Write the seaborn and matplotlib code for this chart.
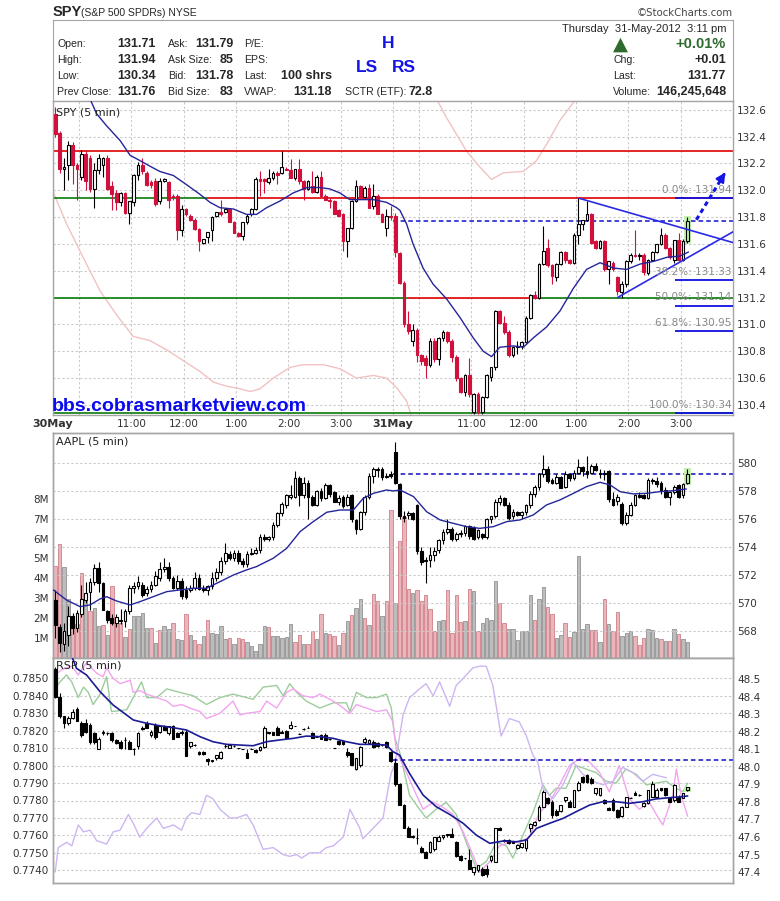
"""StockCharts style intraday chart: SPY / AAPL / RSP 5-minute candles."""

import matplotlib

matplotlib.use("Agg")
import matplotlib.pyplot as plt
from matplotlib.patches import Rectangle
import numpy as np
import seaborn as sns

# ---------------------------------------------------------------- SPY data
spy_open = [132.57, 132.43, 132.16, 132.19, 132.34, 132.19, 132.10, 132.27, 132.24, 132.01,
            132.15, 132.19, 132.24, 132.03, 131.98, 131.91, 131.98, 131.83, 131.91, 132.11,
            132.19, 132.13, 132.06, 132.07, 131.92, 132.07, 132.06, 131.96, 131.96, 131.70,
            131.86, 131.81, 131.78, 131.71, 131.61, 131.65, 131.70, 131.81, 131.84, 131.84,
            131.86, 131.76, 131.68, 131.66, 131.76, 131.82, 131.86, 132.08, 132.08, 132.06,
            132.09, 132.13, 132.13, 132.16, 132.15, 132.09, 132.16, 132.07, 132.01, 132.03,
            131.99, 132.10, 131.96, 131.93, 131.92, 131.85, 131.82, 131.62, 131.72, 131.92,
            132.03, 131.95, 132.02, 131.88, 131.96, 131.82, 131.72, 131.81,
            131.81, 131.53, 131.31, 131.00, 130.88, 130.96, 130.77, 130.75, 130.70, 130.88,
            130.74, 130.90, 130.94, 130.88, 130.76, 130.60, 130.50, 130.62, 130.35, 130.48,
            130.35, 130.46, 130.61, 130.68, 131.10, 131.01, 130.94, 130.77, 130.83, 130.84,
            130.87, 131.05, 131.22, 131.20, 131.45, 131.57, 131.44, 131.35, 131.45, 131.54,
            131.48, 131.46, 131.67, 131.75, 131.78, 131.82, 131.62, 131.57, 131.62, 131.41,
            131.46, 131.35, 131.24, 131.30, 131.47, 131.52, 131.51, 131.52, 131.38, 131.48,
            131.54, 131.60, 131.67, 131.57, 131.48, 131.63, 131.48, 131.62]
spy_high = [132.62, 132.44, 132.24, 132.37, 132.36, 132.20, 132.30, 132.30, 132.26, 132.20,
            132.27, 132.25, 132.26, 132.07, 132.00, 131.99, 131.99, 131.92, 132.12, 132.21,
            132.24, 132.14, 132.08, 132.09, 132.09, 132.09, 132.07, 131.97, 131.97, 131.89,
            131.87, 131.82, 131.79, 131.72, 131.64, 131.69, 131.81, 131.84, 131.93, 131.86,
            131.87, 131.77, 131.69, 131.76, 131.82, 131.87, 132.10, 132.14, 132.09, 132.16,
            132.14, 132.14, 132.29, 132.17, 132.23, 132.16, 132.23, 132.08, 132.08, 132.14,
            132.11, 132.14, 131.97, 131.94, 131.93, 131.86, 131.83, 131.72, 131.93, 132.08,
            132.04, 132.03, 132.05, 132.05, 131.97, 131.83, 131.86, 131.88,
            131.83, 131.54, 131.32, 131.10, 131.00, 130.97, 130.78, 130.77, 130.90, 130.90,
            130.91, 130.96, 130.95, 130.89, 130.77, 130.61, 130.63, 130.75, 130.49, 130.50,
            130.47, 130.63, 130.68, 131.11, 131.11, 131.06, 130.96, 130.84, 130.88, 130.88,
            131.06, 131.23, 131.25, 131.46, 131.73, 131.64, 131.45, 131.46, 131.55, 131.55,
            131.49, 131.68, 131.94, 131.78, 131.92, 131.83, 131.63, 131.63, 131.63, 131.47,
            131.47, 131.36, 131.32, 131.48, 131.53, 131.70, 131.53, 131.53, 131.49, 131.55,
            131.60, 131.72, 131.68, 131.58, 131.63, 131.68, 131.64, 131.80]
spy_low = [132.40, 132.13, 132.00, 132.08, 132.05, 131.93, 132.08, 132.00, 131.99, 131.87,
           132.12, 132.10, 132.00, 131.85, 131.85, 131.88, 131.82, 131.75, 131.88, 132.08,
           132.12, 132.03, 132.02, 131.88, 131.90, 132.06, 131.87, 131.93, 131.63, 131.66,
           131.81, 131.77, 131.70, 131.55, 131.60, 131.61, 131.62, 131.80, 131.81, 131.83,
           131.76, 131.68, 131.65, 131.63, 131.75, 131.81, 131.85, 131.96, 131.98, 132.05,
           132.08, 132.05, 132.12, 132.15, 132.09, 132.08, 132.05, 131.93, 132.00, 131.98,
           131.98, 131.96, 131.93, 131.87, 131.82, 131.81, 131.55, 131.50, 131.71, 131.91,
           131.94, 131.94, 131.87, 131.86, 131.82, 131.76, 131.66, 131.78,
           131.50, 131.30, 130.98, 130.93, 130.84, 130.72, 130.70, 130.60, 130.68, 130.72,
           130.70, 130.88, 130.86, 130.72, 130.58, 130.49, 130.47, 130.46, 130.33, 130.33,
           130.33, 130.45, 130.58, 130.66, 131.00, 130.93, 130.76, 130.76, 130.78, 130.82,
           130.86, 131.04, 131.19, 131.19, 131.44, 131.43, 131.30, 131.32, 131.44, 131.46,
           131.45, 131.45, 131.60, 131.70, 131.77, 131.60, 131.56, 131.56, 131.40, 131.30,
           131.40, 131.22, 131.20, 131.28, 131.46, 131.50, 131.48, 131.37, 131.37, 131.47,
           131.53, 131.59, 131.56, 131.49, 131.46, 131.47, 131.47, 131.61]
spy_close = [132.42, 132.16, 132.17, 132.34, 132.19, 132.16, 132.27, 132.07, 132.01, 132.15,
             132.24, 132.24, 132.01, 131.97, 131.91, 131.98, 131.83, 131.92, 132.11, 132.19,
             132.14, 132.04, 132.04, 131.90, 132.07, 132.08, 131.93, 131.95, 131.70, 131.86,
             131.82, 131.78, 131.71, 131.62, 131.64, 131.69, 131.80, 131.84, 131.82, 131.86,
             131.76, 131.68, 131.66, 131.76, 131.81, 131.86, 132.08, 132.07, 132.07, 132.09,
             132.13, 132.11, 132.17, 132.15, 132.09, 132.16, 132.07, 132.01, 132.07, 131.99,
             132.10, 131.96, 131.93, 131.92, 131.82, 131.81, 131.62, 131.72, 131.92, 132.03,
             131.95, 132.02, 131.87, 131.96, 131.82, 131.76, 131.81, 131.80,
             131.54, 131.31, 131.00, 130.95, 130.96, 130.77, 130.73, 130.70, 130.88, 130.74,
             130.90, 130.94, 130.88, 130.76, 130.60, 130.50, 130.62, 130.48, 130.48, 130.35,
             130.46, 130.62, 130.68, 131.10, 131.01, 130.94, 130.77, 130.83, 130.84, 130.87,
             131.05, 131.22, 131.20, 131.45, 131.55, 131.44, 131.36, 131.45, 131.54, 131.48,
             131.46, 131.67, 131.75, 131.78, 131.82, 131.61, 131.57, 131.62, 131.41, 131.47,
             131.41, 131.25, 131.30, 131.47, 131.52, 131.51, 131.52, 131.39, 131.48, 131.54,
             131.60, 131.67, 131.57, 131.50, 131.63, 131.48, 131.62, 131.77]

# moving average and overlay, read as (bar, value) points
spy_ma_bar = [8.0, 9.5, 11.8, 14.9, 17.2, 19.5, 21.7, 24.0, 27.1, 30.2, 33.2, 35.5, 37.8, 40.9,
              43.9, 46.2, 48.5, 51.6, 54.6, 57.7, 60.7, 63.0, 65.3, 67.6, 69.9, 73.0, 76.0,
              78.3, 79.1, 80.6, 82.1, 84.4, 86.7, 89.8, 92.9, 95.9, 98.2, 100.1, 102.0, 105.1,
              107.4, 109.7, 112.7, 115.8, 118.9, 121.9, 125.0, 128.1, 131.1, 134.2, 137.3,
              140.3, 143.4, 145.3]
spy_ma = [132.68, 132.57, 132.48, 132.37, 132.26, 132.22, 132.18, 132.14, 132.11, 132.04,
          131.97, 131.91, 131.87, 131.86, 131.82, 131.82, 131.87, 131.92, 131.98, 132.02,
          132.02, 132.01, 131.98, 131.93, 131.93, 131.93, 131.91, 131.87, 131.85, 131.75,
          131.60, 131.42, 131.30, 131.19, 131.05, 130.90, 130.80, 130.76, 130.83, 130.84,
          130.83, 130.90, 130.98, 131.10, 131.27, 131.41, 131.46, 131.42, 131.41, 131.45,
          131.47, 131.50, 131.51, 131.54]
spy_band_lo_bar = [-0.5, 2.6, 6.4, 10.3, 14.1, 17.9, 21.7, 25.6, 29.4, 33.2, 36.3, 39.3, 42.4,
                   44.7, 47.0, 50.0, 53.9, 56.9, 61.5, 65.3, 69.1, 73.0, 76.0, 78.3, 80.6,
                   82.1, 84.0]
spy_band_lo = [131.99, 131.75, 131.50, 131.25, 131.07, 130.91, 130.88, 130.81, 130.73, 130.65,
               130.57, 130.54, 130.52, 130.50, 130.52, 130.60, 130.68, 130.70, 130.70, 130.67,
               130.60, 130.62, 130.60, 130.53, 130.43, 130.28, 130.10]
spy_band_hi_bar = [85.5, 89.8, 94.4, 97.5, 100.1, 102.8, 107.4, 110.4, 112.7, 115.8, 120.4]
spy_band_hi = [132.80, 132.54, 132.29, 132.17, 132.08, 132.13, 132.14, 132.22, 132.34, 132.52,
               132.72]

# annotations drawn on the SPY panel (level, start bar, end bar)
spy_red_lines = [(132.29, 0, 156), (131.94, 35.3, 156), (131.20, 81.4, 110.0)]
spy_green_lines = [(131.94, 0, 35.3), (131.20, 0, 81.4), (131.20, 110.0, 156), (130.34, 0, 156)]
fib_pct = ["0.0%", "38.2%", "50.0%", "61.8%", "100.0%"]
fib_val = [131.94, 131.33, 131.14, 130.95, 130.34]
trend_upper = ([120.7, 156.0], [131.94, 131.61])
trend_lower = ([129.5, 156.0], [131.20, 131.69])
breakout_arrow = ([147.6, 154.0], [131.78, 132.12])
spy_last = 131.77

# --------------------------------------------------------------- AAPL data
aapl_open = [570.21, 568.3, 567.1, 567.7, 569.1, 568.2, 569.2, 570.2, 570.8, 571.5,
             572.5, 571.4, 569.4, 568.9, 568.6, 568.8, 568.7, 569.4, 571.1, 571.2,
             571.3, 570.7, 571.0, 571.3, 571.8, 572.4, 572.6, 571.8, 571.1, 571.6,
             570.9, 570.9, 571.1, 571.8, 571.1, 570.9, 571.2, 571.8, 572.2, 573.0,
             573.5, 573.2, 573.6, 573.0, 572.8, 573.5, 573.6, 573.8, 574.7, 574.6,
             574.7, 575.6, 576.4, 577.0, 577.6, 577.6, 578.9, 577.7, 578.6, 577.6,
             577.0, 578.0, 577.5, 578.4, 577.9, 577.2, 577.6, 577.0, 577.7, 575.9,
             575.3, 576.5, 577.6, 579.1, 579.6, 579.6, 579.0, 579.2,
             580.8, 578.5, 576.2, 576.3, 576.4, 577.0, 573.7, 573.0, 573.1, 573.4,
             573.8, 574.5, 575.1, 575.3, 574.6, 574.9, 575.0, 575.5, 575.4, 574.7,
             574.9, 574.7, 576.0, 576.2, 577.2, 577.5, 577.0, 576.2, 576.5, 576.3,
             576.5, 577.0, 577.8, 578.3, 579.2, 579.6, 578.8, 578.6, 579.0, 578.3,
             579.2, 578.9, 579.3, 579.7, 579.4, 579.3, 579.8, 579.2, 579.3, 579.4,
             577.4, 577.3, 577.1, 575.7, 576.3, 577.0, 577.7, 577.7, 577.5, 578.8,
             578.7, 578.6, 578.1, 577.6, 577.9, 578.4, 577.7, 578.6]
aapl_high = [570.9, 568.5, 568.6, 569.8, 569.3, 569.5, 571.3, 571.5, 571.8, 572.8,
             572.9, 571.5, 569.5, 569.2, 569.2, 569.6, 569.6, 571.3, 571.5, 571.9,
             571.5, 571.2, 571.6, 572.3, 572.9, 573.2, 572.9, 571.9, 572.0, 571.8,
             571.2, 571.3, 572.2, 572.1, 571.3, 571.3, 572.2, 572.5, 573.3, 574.3,
             573.7, 573.8, 573.8, 573.2, 573.7, 573.9, 574.0, 574.9, 574.9, 574.8,
             575.8, 576.5, 577.2, 577.8, 578.4, 579.4, 579.1, 579.0, 578.8, 577.7,
             578.1, 578.2, 578.6, 578.5, 578.0, 577.7, 577.7, 577.8, 577.8, 576.0,
             576.6, 577.7, 579.3, 579.7, 579.7, 579.7, 579.3, 579.4,
             581.5, 578.6, 576.6, 576.6, 576.5, 577.1, 574.0, 573.3, 574.0, 574.0,
             574.6, 575.3, 576.0, 575.4, 575.1, 575.2, 575.6, 575.6, 575.5, 575.3,
             575.0, 576.1, 576.2, 577.4, 577.7, 577.6, 577.2, 576.7, 576.6, 576.6,
             577.1, 578.0, 578.4, 579.3, 580.6, 579.8, 578.9, 579.2, 579.1, 579.4,
             579.3, 579.5, 580.3, 579.8, 580.5, 579.9, 580.0, 579.6, 579.5, 579.5,
             577.9, 577.8, 577.2, 576.5, 577.2, 577.8, 577.9, 577.8, 578.9, 578.9,
             579.0, 578.7, 578.3, 578.0, 578.4, 578.5, 578.6, 579.6]
aapl_low = [567.5, 566.5, 566.6, 566.9, 567.8, 567.9, 569.0, 570.0, 569.5, 571.3,
            570.8, 569.5, 568.6, 568.4, 568.3, 568.5, 568.3, 569.2, 570.7, 571.0,
            570.4, 570.5, 570.8, 571.2, 571.6, 572.2, 571.6, 571.0, 570.9, 570.3,
            570.3, 570.8, 570.9, 570.9, 570.8, 570.6, 571.0, 571.6, 572.0, 572.8,
            573.1, 573.0, 572.8, 572.6, 572.6, 573.4, 573.5, 573.6, 574.4, 574.4,
            574.5, 575.4, 576.2, 576.8, 577.4, 577.5, 576.9, 577.5, 576.0, 576.9,
            576.9, 577.3, 577.4, 577.6, 577.2, 577.0, 576.8, 576.9, 575.8, 574.9,
            575.2, 576.3, 577.4, 578.6, 579.0, 578.8, 578.9, 578.9,
            578.5, 576.0, 575.8, 576.0, 575.9, 573.5, 572.7, 571.4, 572.6, 573.0,
            573.6, 574.2, 574.9, 574.4, 574.4, 574.7, 574.8, 574.6, 574.5, 574.6,
            574.6, 574.6, 575.7, 576.1, 577.0, 576.9, 575.9, 576.0, 576.2, 576.0,
            576.3, 576.8, 577.6, 578.1, 579.0, 578.6, 578.5, 578.5, 578.2, 578.2,
            578.7, 578.8, 579.2, 579.1, 578.9, 579.2, 579.4, 578.9, 578.8, 577.2,
            576.9, 577.0, 575.6, 575.6, 576.2, 576.9, 577.5, 577.4, 577.4, 578.5,
            578.3, 577.8, 577.5, 577.0, 577.8, 577.5, 577.5, 578.5]
aapl_close = [568.43, 567.12, 568.0, 569.1, 568.2, 569.3, 570.3, 570.7, 571.5, 572.5,
              571.4, 569.5, 568.8, 568.6, 569.0, 568.7, 569.4, 571.1, 571.2, 571.5,
              570.6, 571.0, 571.3, 571.9, 572.4, 572.6, 571.8, 571.1, 571.6, 570.5,
              570.4, 571.1, 571.8, 571.0, 570.9, 571.2, 571.8, 572.2, 573.0, 573.6,
              573.2, 573.6, 573.0, 572.8, 573.5, 573.6, 573.8, 574.7, 574.6, 574.7,
              575.6, 576.4, 577.1, 577.7, 577.7, 578.9, 577.7, 578.6, 577.6, 577.0,
              578.0, 577.5, 578.4, 577.8, 577.2, 577.5, 576.9, 577.6, 576.0, 575.3,
              576.5, 577.6, 579.1, 579.6, 579.5, 579.0, 579.1, 579.1,
              578.6, 576.2, 576.1, 576.4, 576.0, 573.7, 572.9, 573.1, 573.4, 573.7,
              574.5, 575.1, 575.3, 574.6, 574.9, 575.0, 575.5, 574.8, 574.6, 575.2,
              574.7, 576.0, 576.2, 577.2, 577.5, 577.0, 576.1, 576.5, 576.3, 576.5,
              577.0, 577.8, 578.3, 579.2, 579.6, 578.7, 578.6, 579.0, 578.2, 579.2,
              578.9, 579.3, 579.7, 579.4, 579.2, 579.8, 579.5, 579.3, 579.2, 577.4,
              577.0, 577.6, 575.7, 576.3, 577.0, 577.7, 577.6, 577.5, 578.8, 578.7,
              578.5, 578.1, 577.6, 577.9, 578.3, 577.6, 578.5, 579.2]

# volume in millions, and whether the bar was an up bar (grey) or down bar (pink)
aapl_vol = [4.63, 5.72, 4.55, 2.95, 1.90, 1.70, 4.29, 2.95, 2.36, 2.53,
            1.61, 1.64, 1.14, 3.62, 1.94, 1.77, 1.07, 1.44, 2.11, 2.11,
            2.28, 1.52, 1.52, 0.76, 1.40, 1.61, 1.44, 1.74, 0.93, 0.90,
            2.19, 1.14, 0.90, 0.68, 1.10, 1.91, 1.27, 1.19, 1.61, 0.93,
            1.02, 0.68, 1.02, 0.93, 0.80, 0.60, 0.35, 0.68, 1.61, 1.56,
            1.10, 1.10, 1.02, 1.07, 1.69, 0.80, 1.14, 0.68, 0.68, 1.35,
            0.93, 2.19, 1.27, 1.19, 1.10, 0.63, 1.27, 1.86, 2.14, 2.53,
            2.95, 2.03, 1.64, 3.20, 2.86, 2.11, 2.86, 7.45,
            2.78, 5.89, 7.06, 3.49, 3.25, 3.42, 2.86, 3.15, 2.48, 1.35,
            1.86, 1.91, 3.42, 1.27, 3.15, 1.81, 1.86, 3.45, 3.37, 1.35,
            1.77, 1.99, 1.91, 3.85, 2.75, 1.74, 1.47, 1.47, 0.90, 1.34,
            1.34, 3.15, 1.91, 2.95, 3.55, 2.54, 2.19, 1.00, 1.14, 1.74,
            1.05, 1.30, 5.13, 1.47, 1.69, 1.41, 1.41, 0.80, 2.95, 1.69,
            1.35, 2.31, 1.10, 1.24, 1.35, 1.10, 0.65, 1.02, 1.47, 1.41,
            1.02, 0.93, 0.85, 0.85, 1.47, 1.19, 0.93, 0.80]
aapl_vol_up = [0, 0, 1, 1, 0, 0, 0, 1, 0, 1,
               1, 0, 1, 0, 0, 0, 1, 0, 1, 1,
               1, 1, 0, 1, 0, 1, 1, 0, 1, 1,
               0, 1, 0, 0, 1, 0, 1, 1, 1, 1,
               0, 1, 0, 0, 1, 1, 1, 1, 1, 0,
               1, 1, 1, 1, 1, 0, 0, 1, 0, 0,
               1, 0, 1, 0, 0, 1, 0, 1, 0, 1,
               1, 0, 1, 0, 0, 1, 0, 0,
               1, 0, 0, 0, 1, 0, 0, 0, 0, 0,
               1, 1, 0, 0, 0, 0, 1, 0, 1, 0,
               1, 1, 1, 1, 0, 0, 1, 1, 1, 1,
               1, 1, 0, 1, 1, 0, 0, 1, 1, 0,
               0, 1, 1, 1, 1, 0, 0, 1, 0, 1,
               0, 0, 1, 1, 1, 0, 0, 0, 1, 1,
               1, 0, 1, 0, 1, 0, 1, 1]

aapl_ma_bar = [-0.4, 2.6, 5.7, 8.0, 10.3, 11.8, 14.1, 17.2, 19.5, 22.5, 25.6, 28.6, 31.7,
               34.7, 37.8, 40.9, 43.9, 46.2, 50.0, 53.1, 56.2, 59.2, 62.3, 65.3, 68.4, 70.7,
               73.0, 76.0, 77.6, 79.1, 82.2, 85.2, 88.3, 91.3, 94.4, 97.4, 100.5, 103.6,
               106.6, 109.7, 112.7, 115.8, 118.9, 121.9, 125.0, 127.3, 129.6, 132.6, 135.7,
               138.7, 141.8, 144.8]
aapl_ma = [570.93, 570.21, 569.74, 569.86, 570.29, 570.45, 570.14, 569.86, 570.10, 570.45,
           570.81, 570.93, 571.05, 571.05, 571.52, 572.00, 572.36, 572.60, 573.19, 573.90,
           575.10, 575.81, 576.48, 576.64, 576.64, 577.48, 577.83, 578.07, 578.00, 578.07,
           577.60, 576.52, 575.93, 575.69, 575.45, 575.33, 575.45, 575.81, 575.93, 576.29,
           577.00, 577.36, 577.83, 578.31, 578.62, 578.43, 577.95, 577.79, 577.83, 577.95,
           578.02, 578.14]
aapl_ref = 579.19

# ---------------------------------------------------------------- RSP data
rsp_open = [48.56, 48.40, 48.29, 48.25, 48.28, 48.33, 48.25, 48.25, 48.24, 48.19,
            48.10, 48.19, 48.19, 48.19, 48.15, 48.14, 48.15, 48.14, 48.10, 48.12,
            48.22, 48.25, 48.18, 48.24, 48.20, 48.23, 48.19, 48.23, 48.19, 48.20,
            48.20, 48.12, 48.125, 48.086, 48.086, 48.046, 48.035, 48.048, 48.048, 48.12,
            48.11, 48.12, 48.106, 48.10, 48.077, 48.10, 48.096, 48.096, 48.115, 48.196,
            48.196, 48.22, 48.20, 48.204, 48.22, 48.233, 48.185, 48.215, 48.22, 48.19,
            48.172, 48.18, 48.18, 48.16, 48.105, 48.146, 48.146, 48.086, 48.077, 47.99,
            48.01, 48.14, 48.134, 48.143, 48.134, 48.126, 48.14, 48.086,
            48.02, 47.90, 47.78, 47.65, 47.605, 47.596, 47.54, 47.515, 47.515, 47.53,
            47.58, 47.60, 47.61, 47.62, 47.57, 47.49, 47.478, 47.47, 47.40, 47.41,
            47.42, 47.42, 47.47, 47.46, 47.65, 47.584, 47.584, 47.578, 47.535, 47.545,
            47.535, 47.65, 47.667, 47.697, 47.773, 47.82, 47.80, 47.75, 47.75, 47.81,
            47.80, 47.773, 47.868, 47.94, 47.953, 47.93, 47.85, 47.84, 47.81, 47.763,
            47.81, 47.754, 47.72, 47.773, 47.824, 47.85, 47.84, 47.774, 47.792, 47.83,
            47.83, 47.877, 47.877, 47.82, 47.81, 47.83, 47.824, 47.87]
rsp_high = [48.57, 48.42, 48.29, 48.29, 48.33, 48.34, 48.26, 48.27, 48.25, 48.20,
            48.17, 48.21, 48.20, 48.20, 48.16, 48.15, 48.17, 48.15, 48.11, 48.20,
            48.23, 48.26, 48.21, 48.25, 48.24, 48.24, 48.23, 48.24, 48.20, 48.21,
            48.21, 48.14, 48.13, 48.09, 48.09, 48.05, 48.04, 48.07, 48.09, 48.13,
            48.125, 48.125, 48.108, 48.10, 48.10, 48.105, 48.10, 48.12, 48.23, 48.20,
            48.20, 48.23, 48.21, 48.21, 48.26, 48.235, 48.19, 48.22, 48.23, 48.20,
            48.175, 48.185, 48.19, 48.16, 48.105, 48.15, 48.15, 48.105, 48.08, 48.05,
            48.12, 48.17, 48.16, 48.15, 48.14, 48.13, 48.145, 48.09,
            48.05, 47.91, 47.79, 47.66, 47.61, 47.65, 47.55, 47.52, 47.58, 47.60,
            47.61, 47.61, 47.62, 47.65, 47.575, 47.50, 47.48, 47.53, 47.43, 47.44,
            47.43, 47.44, 47.50, 47.65, 47.655, 47.59, 47.59, 47.58, 47.56, 47.56,
            47.59, 47.68, 47.69, 47.78, 47.87, 47.83, 47.81, 47.76, 47.78, 47.83,
            47.81, 47.87, 47.92, 47.95, 47.96, 47.94, 47.88, 47.88, 47.815, 47.77,
            47.82, 47.76, 47.775, 47.83, 47.83, 47.86, 47.845, 47.80, 47.87, 47.92,
            47.88, 47.88, 47.88, 47.83, 47.90, 47.84, 47.85, 47.88]
rsp_low = [48.39, 48.28, 48.22, 48.24, 48.27, 48.26, 48.17, 48.19, 48.13, 48.13,
           48.10, 48.18, 48.18, 48.14, 48.13, 48.10, 48.10, 48.10, 48.07, 48.10,
           48.21, 48.22, 48.17, 48.16, 48.19, 48.21, 48.18, 48.16, 48.17, 48.18,
           48.06, 48.11, 48.12, 48.07, 48.07, 48.01, 48.03, 48.04, 48.045, 48.105,
           48.105, 48.115, 48.104, 48.10, 48.05, 48.10, 48.08, 48.09, 48.11, 48.185,
           48.18, 48.18, 48.19, 48.165, 48.215, 48.23, 48.185, 48.21, 48.22, 48.165,
           48.17, 48.16, 48.15, 48.15, 48.105, 48.125, 48.125, 48.057, 48.01, 47.98,
           48.00, 48.13, 48.13, 48.11, 48.115, 48.12, 48.11, 48.03,
           47.89, 47.78, 47.65, 47.60, 47.595, 47.56, 47.51, 47.48, 47.51, 47.52,
           47.575, 47.59, 47.60, 47.60, 47.485, 47.465, 47.475, 47.42, 47.385, 47.40,
           47.38, 47.375, 47.46, 47.455, 47.64, 47.57, 47.56, 47.565, 47.53, 47.54,
           47.52, 47.63, 47.66, 47.69, 47.77, 47.79, 47.71, 47.72, 47.74, 47.80,
           47.77, 47.77, 47.86, 47.91, 47.91, 47.90, 47.84, 47.835, 47.79, 47.754,
           47.75, 47.71, 47.715, 47.77, 47.82, 47.84, 47.835, 47.77, 47.79, 47.83,
           47.82, 47.865, 47.835, 47.80, 47.80, 47.80, 47.82, 47.86]
rsp_close = [48.40, 48.29, 48.25, 48.28, 48.31, 48.26, 48.18, 48.20, 48.14, 48.14,
             48.16, 48.20, 48.19, 48.15, 48.134, 48.11, 48.15, 48.10, 48.10, 48.19,
             48.215, 48.22, 48.20, 48.17, 48.235, 48.21, 48.23, 48.16, 48.17, 48.195,
             48.06, 48.14, 48.125, 48.073, 48.073, 48.035, 48.04, 48.067, 48.086, 48.12,
             48.124, 48.12, 48.105, 48.10, 48.05, 48.10, 48.082, 48.115, 48.22, 48.19,
             48.18, 48.18, 48.19, 48.165, 48.24, 48.233, 48.185, 48.215, 48.224, 48.165,
             48.172, 48.16, 48.153, 48.158, 48.105, 48.128, 48.128, 48.067, 48.01, 48.048,
             48.115, 48.16, 48.153, 48.115, 48.12, 48.124, 48.115, 48.033,
             47.90, 47.78, 47.65, 47.60, 47.60, 47.596, 47.515, 47.48, 47.573, 47.60,
             47.60, 47.61, 47.615, 47.60, 47.49, 47.47, 47.478, 47.42, 47.43, 47.44,
             47.385, 47.39, 47.49, 47.65, 47.64, 47.575, 47.565, 47.568, 47.555, 47.565,
             47.586, 47.677, 47.687, 47.773, 47.858, 47.792, 47.725, 47.725, 47.78, 47.83,
             47.773, 47.868, 47.906, 47.915, 47.915, 47.906, 47.877, 47.877, 47.792, 47.754,
             47.754, 47.716, 47.773, 47.83, 47.824, 47.84, 47.84, 47.792, 47.868, 47.90,
             47.868, 47.868, 47.839, 47.801, 47.896, 47.80, 47.848, 47.885]

rsp_ma_bar = [3.8, 4.9, 7.2, 10.3, 13.3, 16.4, 17.9, 21.0, 24.0, 27.1, 30.1, 33.2, 36.2, 39.3,
              42.4, 45.4, 48.5, 51.5, 54.6, 57.6, 60.7, 63.8, 66.8, 69.9, 72.9, 76.0, 77.5,
              79.0, 81.3, 84.4, 87.4, 90.5, 93.6, 96.6, 99.7, 102.7, 105.8, 108.1, 110.4,
              113.4, 116.5, 119.5, 122.6, 125.6, 128.7, 131.7, 134.8, 137.8, 140.9, 143.9,
              145.1]
rsp_ma = [48.63, 48.561, 48.523, 48.428, 48.352, 48.295, 48.267, 48.248, 48.234, 48.223,
          48.21, 48.172, 48.143, 48.128, 48.124, 48.12, 48.143, 48.153, 48.162, 48.175,
          48.172, 48.162, 48.143, 48.128, 48.128, 48.124, 48.086, 48.067, 47.962, 47.839,
          47.773, 47.729, 47.678, 47.611, 47.564, 47.577, 47.573, 47.583, 47.649, 47.678,
          47.706, 47.744, 47.782, 47.801, 47.801, 47.792, 47.801, 47.817, 47.824, 47.83,
          47.834]
rsp_ref = 48.04

# overlays on the left (ratio) scale of the RSP panel
ovl_green_bar = [0.0, 1.1, 2.6, 3.8, 5.3, 6.5, 7.6, 8.7, 10.3, 11.8, 12.9, 16.4, 17.9, 19.8,
                 21.0, 23.3, 25.6, 28.6, 31.7, 34.7, 37.8, 40.8, 43.9, 45.4, 47.7, 50.8, 52.3,
                 53.8, 55.4, 57.6, 60.7, 63.8, 66.8, 67.6, 69.1, 71.4, 73.7, 76.0, 77.1, 77.9,
                 79.0, 81.3, 83.6, 85.1, 87.4, 89.7, 92.0, 94.3, 96.6, 98.9, 101.2, 103.5,
                 105.0, 107.3, 109.6, 111.9, 113.4, 114.9, 117.2, 119.5, 121.8, 124.1, 126.4,
                 128.7, 130.9, 133.3, 135.6, 137.9, 140.2, 142.4, 144.0, 145.1]
ovl_green = [0.7844, 0.7848, 0.7852, 0.7848, 0.7839, 0.7845, 0.7842, 0.7835, 0.7841, 0.7851,
             0.7831, 0.7832, 0.7839, 0.7848, 0.7839, 0.7839, 0.7844, 0.7842, 0.7840, 0.7835,
             0.7839, 0.7841, 0.7839, 0.7838, 0.7845, 0.7846, 0.7840, 0.7847, 0.7842, 0.7837,
             0.7833, 0.7836, 0.7836, 0.7831, 0.7842, 0.7839, 0.7839, 0.7841, 0.7833, 0.7816,
             0.7808, 0.7783, 0.7775, 0.7770, 0.7775, 0.7779, 0.7772, 0.7756, 0.7741, 0.7745,
             0.7756, 0.7754, 0.7747, 0.7760, 0.7773, 0.7789, 0.7783, 0.7787, 0.7787, 0.7800,
             0.7798, 0.7796, 0.7791, 0.7790, 0.7798, 0.7795, 0.7789, 0.7790, 0.7791, 0.7787,
             0.7785, 0.7790]
ovl_pink_bar = [0.0, 1.5, 3.8, 5.3, 7.2, 9.5, 11.0, 11.8, 13.3, 14.9, 17.2, 17.9, 19.4, 21.0,
                23.3, 25.6, 27.1, 29.0, 30.9, 33.2, 34.7, 37.8, 40.8, 42.4, 43.9, 47.0, 48.5,
                50.8, 53.1, 54.6, 56.9, 59.2, 60.7, 63.8, 66.1, 67.6, 69.1, 71.4, 73.7, 76.0,
                77.5, 78.3, 80.6, 82.9, 84.4, 86.7, 89.0, 91.3, 93.6, 95.8, 97.4, 99.7, 101.9,
                104.2, 106.5, 108.8, 111.1, 113.4, 115.7, 118.0, 120.3, 122.6, 124.9, 127.1,
                129.4, 131.7, 134.0, 136.3, 137.9, 139.4, 141.7, 142.5, 143.6, 145.1]
ovl_pink = [0.7852, 0.7855, 0.7857, 0.7852, 0.7859, 0.7853, 0.7851, 0.7856, 0.7850, 0.7847,
            0.7849, 0.7842, 0.7843, 0.7841, 0.7839, 0.7837, 0.7834, 0.7835, 0.7833, 0.7831,
            0.7827, 0.7830, 0.7837, 0.7829, 0.7830, 0.7831, 0.7837, 0.7833, 0.7842, 0.7844,
            0.7840, 0.7839, 0.7841, 0.7837, 0.7833, 0.7830, 0.7835, 0.7833, 0.7831, 0.7832,
            0.7825, 0.7808, 0.7796, 0.7783, 0.7775, 0.7779, 0.7776, 0.7772, 0.7762, 0.7749,
            0.7739, 0.7745, 0.7754, 0.7756, 0.7756, 0.7759, 0.7773, 0.7779, 0.7789, 0.7800,
            0.7804, 0.7802, 0.7796, 0.7785, 0.7800, 0.7781, 0.7775, 0.7779, 0.7772, 0.7766,
            0.7783, 0.7798, 0.7783, 0.7771]
ovl_purple_bar = [0.0, 0.7, 2.6, 3.8, 5.3, 6.5, 8.0, 9.5, 11.8, 13.3, 14.9, 16.8, 17.9, 19.4,
                  21.0, 23.3, 24.8, 27.1, 29.0, 30.1, 31.3, 33.2, 34.7, 36.2, 37.8, 40.1, 41.6,
                  43.9, 45.4, 47.7, 50.0, 52.3, 53.8, 55.4, 56.5, 58.4, 60.7, 62.2, 63.8, 66.1,
                  67.6, 69.9, 70.6, 72.9, 75.2, 76.4, 77.1, 77.9, 79.8, 81.3, 83.6, 85.1, 86.7,
                  88.2, 90.5, 92.0, 93.6, 95.8, 97.4, 98.9, 100.4, 102.3, 104.2, 106.5, 108.1,
                  109.6, 110.7, 111.9, 114.2, 116.5, 118.8, 121.1, 123.4, 125.6, 128.0, 130.2,
                  132.5, 134.8, 137.1, 140.2]
ovl_purple = [0.7739, 0.7753, 0.7756, 0.7754, 0.7766, 0.7762, 0.7763, 0.7757, 0.7755, 0.7762,
              0.7763, 0.7772, 0.7767, 0.7759, 0.7764, 0.7770, 0.7764, 0.7766, 0.7763, 0.7770,
              0.7773, 0.7772, 0.7783, 0.7781, 0.7775, 0.7770, 0.7770, 0.7772, 0.7766, 0.7752,
              0.7753, 0.7749, 0.7748, 0.7749, 0.7747, 0.7750, 0.7750, 0.7753, 0.7754, 0.7759,
              0.7775, 0.7764, 0.7758, 0.7764, 0.7770, 0.7787, 0.7796, 0.7800, 0.7829, 0.7839,
              0.7844, 0.7847, 0.7840, 0.7848, 0.7834, 0.7846, 0.7850, 0.7856, 0.7857, 0.7857,
              0.7846, 0.7817, 0.7827, 0.7825, 0.7817, 0.7806, 0.7802, 0.7787, 0.7781, 0.7789,
              0.7802, 0.7795, 0.7791, 0.7789, 0.7791, 0.7799, 0.7796, 0.7791, 0.7795, 0.7793]

# time axis: bar index of each hour line, and its label
time_ticks = [0, 6, 18, 30, 42, 54, 66, 78, 84, 96, 108, 120, 132, 144]
time_labels = ["30May", "", "11:00", "12:00", "1:00", "2:00", "3:00",
               "31May", "", "11:00", "12:00", "1:00", "2:00", "3:00"]
n_slots = 156

# header quote box
quote_rows = [
    ("Open:", "131.71", "Ask:", "131.79", "P/E:", ""),
    ("High:", "131.94", "Ask Size:", "85", "EPS:", ""),
    ("Low:", "130.34", "Bid:", "131.78", "Last:", "100 shrs"),
    ("Prev Close:", "131.76", "Bid Size:", "83", "VWAP:", "131.18"),
]
quote_right = [("Chg:", "+0.01"), ("Last:", "131.77"), ("Volume:", "146,245,648")]

# ---------------------------------------------------------------- drawing
W, H = 780, 901
GRID = "#c9c9c9"
SPINE = "#a5a5a5"
TICK = "#333333"
HILITE = "#c4f0b0"
NARROW = ["Liberation Sans Narrow", "Liberation Sans", "DejaVu Sans"]
LAB_FS = 7.6
VAL_FS = 9

sns.set_style("white")
plt.rcParams["font.family"] = ["DejaVu Sans"]


def fx(x):
    return x / W


def fy(y):
    return 1 - y / H


def panel(fig, top, bottom):
    return fig.add_axes([fx(53), fy(bottom), fx(733) - fx(53), (bottom - top) / H])


def style_axes(ax):
    for sp in ax.spines.values():
        sp.set_color(SPINE)
        sp.set_linewidth(1.0)
    ax.tick_params(length=0, labelsize=7.5, colors=TICK, pad=3)
    ax.set_xlim(0, n_slots)


def time_grid(ax, labels):
    ax.set_xticks(time_ticks)
    if labels:
        ax.set_xticklabels(time_labels)
        for lab in ax.get_xticklabels():
            if "May" in lab.get_text():
                lab.set_fontweight("bold")
                lab.set_fontsize(8)
    else:
        ax.set_xticklabels([])
    ax.grid(True, axis="x", color=GRID, ls=(0, (2, 2)), lw=0.8)


def draw_candles(ax, o, h, l, c, up_edge, down_face, down_edge):
    o, h, l, c = (np.asarray(v, dtype=float) for v in (o, h, l, c))
    x = np.arange(len(o)) + 0.5
    down = c < o
    lo = np.minimum(l, np.minimum(o, c))
    hi = np.maximum(h, np.maximum(o, c))
    last = len(o) - 1
    ax.add_patch(Rectangle((x[last] - 0.85, lo[last] - (hi[last] - lo[last]) * 0.05), 1.7,
                           (hi[last] - lo[last]) * 1.1, facecolor=HILITE, edgecolor="none",
                           zorder=2))
    wick = np.where(down, down_edge, up_edge)
    ax.vlines(x, lo, hi, colors=wick, lw=0.8, zorder=3)
    faces = np.where(down, down_face, "white").astype(object)
    if not down[last]:
        faces[last] = HILITE
    edges = np.where(down, down_edge, up_edge)
    ax.bar(x, np.abs(c - o), bottom=np.minimum(o, c), width=0.62, color=list(faces),
           edgecolor=list(edges), linewidth=0.8, zorder=4)


def line(ax, bars, vals, color, lw=1.0, zorder=3, alpha=1.0):
    sns.lineplot(x=np.asarray(bars) + 0.5, y=vals, ax=ax, color=color, linewidth=lw,
                 sort=False, legend=False, errorbar=None, zorder=zorder, alpha=alpha)


def label(x, y, s, **kw):
    kw.setdefault("fontsize", LAB_FS)
    kw.setdefault("family", NARROW)
    fig.text(fx(x), fy(y), s, va="center", **kw)


def value(x, y, s, **kw):
    kw.setdefault("fontsize", VAL_FS)
    kw.setdefault("family", NARROW)
    fig.text(fx(x), fy(y), s, va="center", ha="right", fontweight="bold", **kw)


fig = plt.figure(figsize=(W / 100, H / 100), dpi=100)
fig.patch.set_facecolor("white")

# ---- header
ax_h = fig.add_axes([fx(53), fy(101), fx(733) - fx(53), (101 - 20) / H])
ax_h.set_xticks([])
ax_h.set_yticks([])
for sp in ax_h.spines.values():
    sp.set_color(SPINE)

label(53, 12, "SPY", fontsize=10.5, fontweight="bold")
label(81, 12.5, "(S&P 500 SPDRs) NYSE", fontsize=7.5)
label(733, 12.5, "©StockCharts.com", fontsize=7.3, ha="right", color="#444444",
      family=["DejaVu Sans"])
label(726, 29, "Thursday  31-May-2012  3:11 pm", fontsize=8, ha="right")

row_y = [44, 60, 76, 92]
for (l1, v1, l2, v2, l3, v3), yy in zip(quote_rows, row_y):
    label(57, yy, l1)
    value(156, yy, v1)
    label(168, yy, l2)
    value(234, yy, v2)
    label(244, yy, l3)
    value(332, yy, v3)
label(345, 92, "SCTR (ETF):")
value(433, 92, "72.8")

for (lab, val), yy in zip(quote_right, row_y[1:]):
    label(613, yy, lab)
    value(726, yy, val)
label(620, 44, "▲", fontsize=14, color="#2f6b2f", ha="center", family=["DejaVu Sans"])
value(726, 44, "+0.01%", fontsize=10.5, color="#2f6b2f")

pattern_blue = "#1414e6"
for txt, xx, yy in [("H", 388, 43), ("LS", 367, 67), ("RS", 404, 67)]:
    label(xx, yy, txt, fontsize=12.5, fontweight="bold", color=pattern_blue, ha="center",
          family=["Liberation Sans", "DejaVu Sans"])

# ---- SPY panel
ax_spy = panel(fig, 101, 415)
style_axes(ax_spy)
ax_spy.set_ylim(130.325, 132.665)
ax_spy.yaxis.tick_right()
ax_spy.set_yticks(np.round(np.arange(130.4, 132.61, 0.2), 1))
ax_spy.yaxis.set_major_formatter(matplotlib.ticker.FormatStrFormatter("%.1f"))
ax_spy.grid(True, axis="y", color=GRID, ls=(0, (2, 2)), lw=0.8)
time_grid(ax_spy, labels=True)
ax_spy.set_axisbelow(True)

line(ax_spy, spy_band_lo_bar, spy_band_lo, "#f2c2c2", lw=1.0, zorder=2)
line(ax_spy, spy_band_hi_bar, spy_band_hi, "#f2c2c2", lw=1.0, zorder=2)
for lvl, x0, x1 in spy_green_lines:
    ax_spy.hlines(lvl, x0, x1, color="#0a7a0a", lw=1.2, zorder=2)
for lvl, x0, x1 in spy_red_lines:
    ax_spy.hlines(lvl, x0, x1, color="#e00000", lw=1.2, zorder=2)
ax_spy.hlines(spy_last, 78, n_slots, color="#1010d0", lw=1.1, ls=(0, (3, 2)), zorder=2)

draw_candles(ax_spy, spy_open, spy_high, spy_low, spy_close,
             up_edge="black", down_face="#d1103c", down_edge="#d1103c")
line(ax_spy, spy_ma_bar, spy_ma, "#25259a", lw=1.0, zorder=5)

ax_spy.plot(*trend_upper, color="#2a2ae6", lw=1.2, zorder=5)
ax_spy.plot(*trend_lower, color="#2a2ae6", lw=1.2, zorder=5)
ax_spy.plot(*breakout_arrow, color="#1414e6", lw=2.2, ls=(0, (1.5, 1.2)), zorder=6)
ax_spy.annotate("", xy=(breakout_arrow[0][1] + 0.6, breakout_arrow[1][1] + 0.03),
                xytext=(breakout_arrow[0][1] - 0.4, breakout_arrow[1][1] - 0.02),
                arrowprops=dict(arrowstyle="-|>", color="#1414e6", lw=1.5,
                                mutation_scale=14), zorder=6)

fib_x0 = 142.6
for pct, val in zip(fib_pct, fib_val):
    ax_spy.hlines(val, fib_x0, n_slots, color="#1010e0", lw=1.3, zorder=5)
    ax_spy.text(n_slots - 0.4, val + 0.025, f"{pct}: {val:.2f}", fontsize=7.5,
                color="#8a8a8a", ha="right", va="bottom", zorder=6)

ax_spy.text(0.6, 132.62, "SPY (5 min)", fontsize=8, color="#222222", va="top", ha="left",
            zorder=7)
ax_spy.text(-0.2, 130.352, "bbs.cobrasmarketview.com", fontsize=14, fontweight="bold",
            color="#0a0aee", ha="left", va="baseline", zorder=7,
            family=["Liberation Sans", "DejaVu Sans"])

# ---- AAPL panel (volume behind, price on the right scale)
ax_vol = panel(fig, 433, 658)
style_axes(ax_vol)
ax_vol.set_ylim(0, 11.3)
ax_vol.set_yticks(range(1, 9))
ax_vol.set_yticklabels([f"{v}M" for v in range(1, 9)])
time_grid(ax_vol, labels=False)
ax_vol.set_axisbelow(True)
vol_x = np.arange(len(aapl_vol)) + 0.5
up = np.asarray(aapl_vol_up, dtype=bool)
ax_vol.bar(vol_x[up], np.asarray(aapl_vol)[up], width=0.78, color="#bdbdbd",
           edgecolor="#9c9c9c", linewidth=0.7, zorder=2)
ax_vol.bar(vol_x[~up], np.asarray(aapl_vol)[~up], width=0.78, color="#ebb6bb",
           edgecolor="#d68c94", linewidth=0.7, zorder=2)

ax_aapl = ax_vol.twinx()
style_axes(ax_aapl)
ax_aapl.set_ylim(566.07, 582.14)
ax_aapl.set_yticks(range(568, 581, 2))
ax_aapl.grid(True, axis="y", color=GRID, ls=(0, (2, 2)), lw=0.8)
ax_aapl.set_xticks([])
ax_aapl.hlines(aapl_ref, 78, n_slots, color="#1010c0", lw=1.1, ls=(0, (3, 2)), zorder=2)
draw_candles(ax_aapl, aapl_open, aapl_high, aapl_low, aapl_close,
             up_edge="black", down_face="black", down_edge="black")
line(ax_aapl, aapl_ma_bar, aapl_ma, "#25259a", lw=1.0, zorder=5)
ax_aapl.text(0.6, 581.9, "AAPL (5 min)", fontsize=8, color="#222222", va="top", ha="left",
             zorder=7)
ax_aapl.set_xlim(0, n_slots)

# ---- RSP panel (ratio overlays on the left, price on the right)
ax_ratio = panel(fig, 658, 883)
style_axes(ax_ratio)
ax_ratio.set_ylim(0.77327, 0.78617)
ax_ratio.set_yticks(np.round(np.arange(0.774, 0.78501, 0.001), 3))
ax_ratio.yaxis.set_major_formatter(matplotlib.ticker.FormatStrFormatter("%.4f"))
ax_ratio.grid(True, axis="y", color=GRID, ls=(0, (2, 2)), lw=0.8)
time_grid(ax_ratio, labels=True)
ax_ratio.set_axisbelow(True)
line(ax_ratio, ovl_green_bar, ovl_green, "#9ccc9c", lw=1.0, zorder=2)
line(ax_ratio, ovl_pink_bar, ovl_pink, "#f2a4f0", lw=1.0, zorder=2)
line(ax_ratio, ovl_purple_bar, ovl_purple, "#cdb6f2", lw=1.0, zorder=2)

ax_rsp = ax_ratio.twinx()
style_axes(ax_rsp)
ax_rsp.set_ylim(47.338, 48.620)
ax_rsp.set_yticks(np.round(np.arange(47.4, 48.51, 0.1), 1))
ax_rsp.yaxis.set_major_formatter(matplotlib.ticker.FormatStrFormatter("%.1f"))
ax_rsp.set_xticks([])
ax_rsp.hlines(rsp_ref, 78, n_slots, color="#1010c0", lw=1.1, ls=(0, (3, 2)), zorder=2)
draw_candles(ax_rsp, rsp_open, rsp_high, rsp_low, rsp_close,
             up_edge="black", down_face="black", down_edge="black")
line(ax_rsp, rsp_ma_bar, rsp_ma, "#1c1c96", lw=1.2, zorder=5)
ax_rsp.text(0.6, 48.605, "RSP (5 min)", fontsize=8, color="#222222", va="top", ha="left",
            zorder=7)
ax_rsp.set_xlim(0, n_slots)

fig.savefig("out.png", dpi=100)
plt.close(fig)
